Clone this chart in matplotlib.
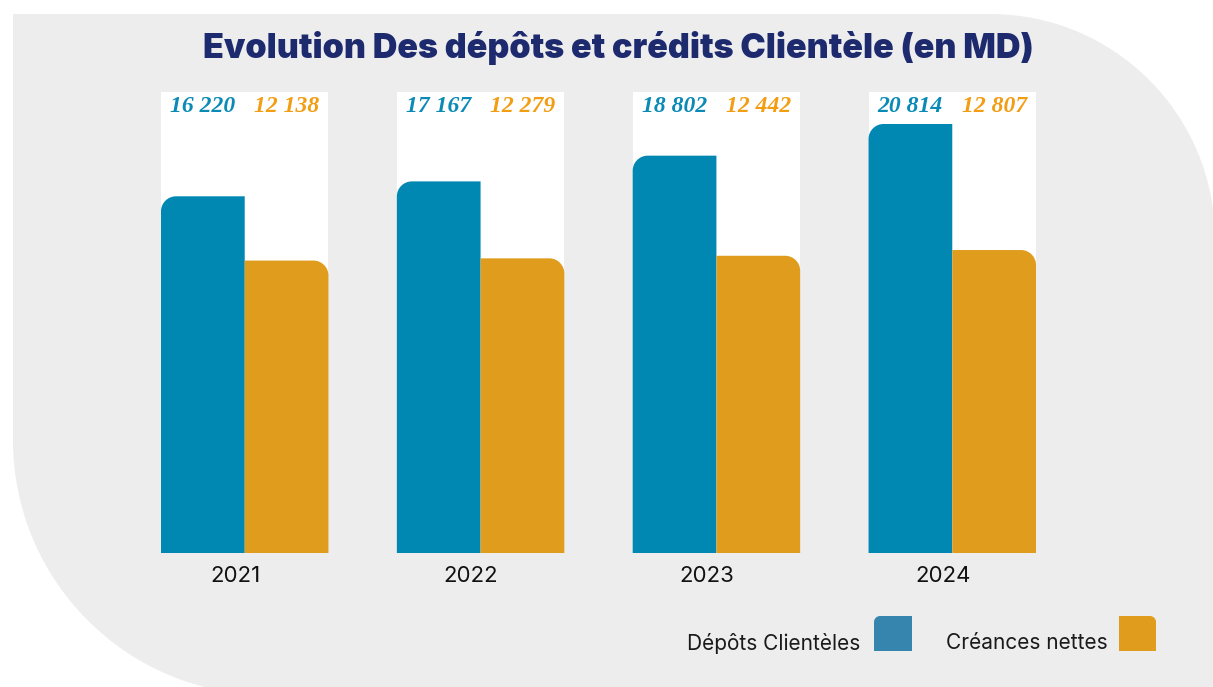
import matplotlib
matplotlib.use('Agg')
import matplotlib.pyplot as plt
from matplotlib.path import Path
from matplotlib.patches import PathPatch

years = ["2021", "2022", "2023", "2024"]
depots = [16220, 17167, 18802, 20814]
creances = [12138, 12279, 12442, 12807]
depots_lbl = ["16 220", "17 167", "18 802", "20 814"]
creances_lbl = ["12 138", "12 279", "12 442", "12 807"]
series_names = ["Dépôts Clientèles", "Créances nettes"]

BLUE = "#0088b3"
ORANGE = "#e09c1d"
BLUE_TXT = "#0a8ab4"
ORANGE_TXT = "#f29d12"
LEG_BLUE = "#3585ae"
NAVY = "#1e2a6e"
GRAY = "#ededed"

W, H = 1213, 687
fig = plt.figure(figsize=(W / 100, H / 100), dpi=100)
fig.patch.set_facecolor("white")

K = 0.5523


def rounded_path(x0, y0, w, h, rx, ry, corner):
    # rectangle with a single rounded top corner (tl or tr)
    x1, y1 = x0 + w, y0 + h
    if corner == "tl":
        verts = [(x0, y0), (x1, y0), (x1, y1), (x0 + rx, y1),
                 (x0 + rx - K * rx, y1), (x0, y1 - ry + K * ry), (x0, y1 - ry),
                 (x0, y0)]
        codes = [Path.MOVETO, Path.LINETO, Path.LINETO, Path.LINETO,
                 Path.CURVE4, Path.CURVE4, Path.CURVE4, Path.CLOSEPOLY]
    else:
        verts = [(x0, y0), (x0, y1), (x1 - rx, y1),
                 (x1 - rx + K * rx, y1), (x1, y1 - ry + K * ry), (x1, y1 - ry),
                 (x1, y0), (x0, y0)]
        codes = [Path.MOVETO, Path.LINETO, Path.LINETO,
                 Path.CURVE4, Path.CURVE4, Path.CURVE4,
                 Path.LINETO, Path.CLOSEPOLY]
    return Path(verts, codes)


# background decoration (pixel coords)
bg = fig.add_axes([0, 0, 1, 1])
bg.set_xlim(0, W)
bg.set_ylim(H, 0)
bg.axis("off")
r1, cx1 = 225, 990
r2, cy2 = 255, 440
verts = [(13, 14), (cx1, 14),
         (cx1 + K * r1, 14), (cx1 + r1, 14 + r1 - K * r1), (cx1 + r1, 14 + r1),
         (cx1 + r1, 720), (13 + r2, 720), (13 + r2, cy2 + r2),
         (13 + r2 - K * r2, cy2 + r2), (13, cy2 + K * r2), (13, cy2),
         (13, 14)]
codes = [Path.MOVETO, Path.LINETO,
         Path.CURVE4, Path.CURVE4, Path.CURVE4,
         Path.LINETO, Path.LINETO, Path.LINETO,
         Path.CURVE4, Path.CURVE4, Path.CURVE4,
         Path.CLOSEPOLY]
bg.add_patch(PathPatch(Path(verts, codes), facecolor=GRAY, edgecolor="none"))

bg.text(618, 48, "Evolution Des dépôts et crédits Clientèle (en MD)",
        ha="center", va="center", fontsize=24.5, fontweight=900,
        color=NAVY, family="Inter")

# legend
bg.text(860, 643, series_names[0], ha="right", va="center", fontsize=15,
        family="Inter", color="#1a1a1a")
bg.text(1108, 643, series_names[1], ha="right", va="center", fontsize=15,
        family="Inter", color="#1a1a1a")
bg.add_patch(PathPatch(rounded_path(874, 651, 38, -35, 6, -6, "tl"),
                       facecolor=LEG_BLUE, edgecolor="none"))
bg.add_patch(PathPatch(rounded_path(1119, 651, 37, -35, 6, -6, "tr"),
                       facecolor=ORANGE, edgecolor="none"))

# bar axes
ax_l, ax_r, ax_t, ax_b = 161, 1036, 92, 553
ax = fig.add_axes([ax_l / W, (H - ax_b) / H, (ax_r - ax_l) / W, (ax_b - ax_t) / H])
ax.patch.set_alpha(0)
for s in ax.spines.values():
    s.set_visible(False)
ax.set_xticks([])
ax.set_yticks([])

YMIN, YMAX = -6440, 22846
bw = 0.355
ax.set_xlim(-bw, 3 + bw)
ax.set_ylim(YMIN, YMAX)
x = list(range(len(years)))

ax.bar(x, [YMAX - YMIN] * len(x), bottom=YMIN, width=2 * bw, color="white", zorder=1)

px_x = (ax_r - ax_l) / (3 + 2 * bw)
px_y = (ax_b - ax_t) / (YMAX - YMIN)
rx, ry = 15 / px_x, 15 / px_y

b1 = ax.bar([i - bw / 2 for i in x], [v - YMIN for v in depots], bottom=YMIN,
            width=bw, color=BLUE)
b2 = ax.bar([i + bw / 2 for i in x], [v - YMIN for v in creances], bottom=YMIN,
            width=bw, color=ORANGE)
for bars, corner, col in [(b1, "tl", BLUE), (b2, "tr", ORANGE)]:
    for rect in bars:
        p = rounded_path(rect.get_x(), rect.get_y(), rect.get_width(),
                         rect.get_height(), rx, ry, corner)
        ax.add_patch(PathPatch(p, facecolor=col, edgecolor="none", zorder=2))
        rect.remove()

lbl_y = YMAX - 15 / px_y
for i in x:
    ax.text(i - bw / 2, lbl_y, depots_lbl[i], ha="center", va="center",
            fontsize=17, fontweight="bold", style="italic",
            family="Liberation Serif", color=BLUE_TXT)
    ax.text(i + bw / 2, lbl_y, creances_lbl[i], ha="center", va="center",
            fontsize=17, fontweight="bold", style="italic",
            family="Liberation Serif", color=ORANGE_TXT)
    ax.text(i - 0.04, YMIN - 23 / px_y, years[i], ha="center", va="center",
            fontsize=16, family="Inter", color="#111111")

fig.savefig("out.png", dpi=100)
